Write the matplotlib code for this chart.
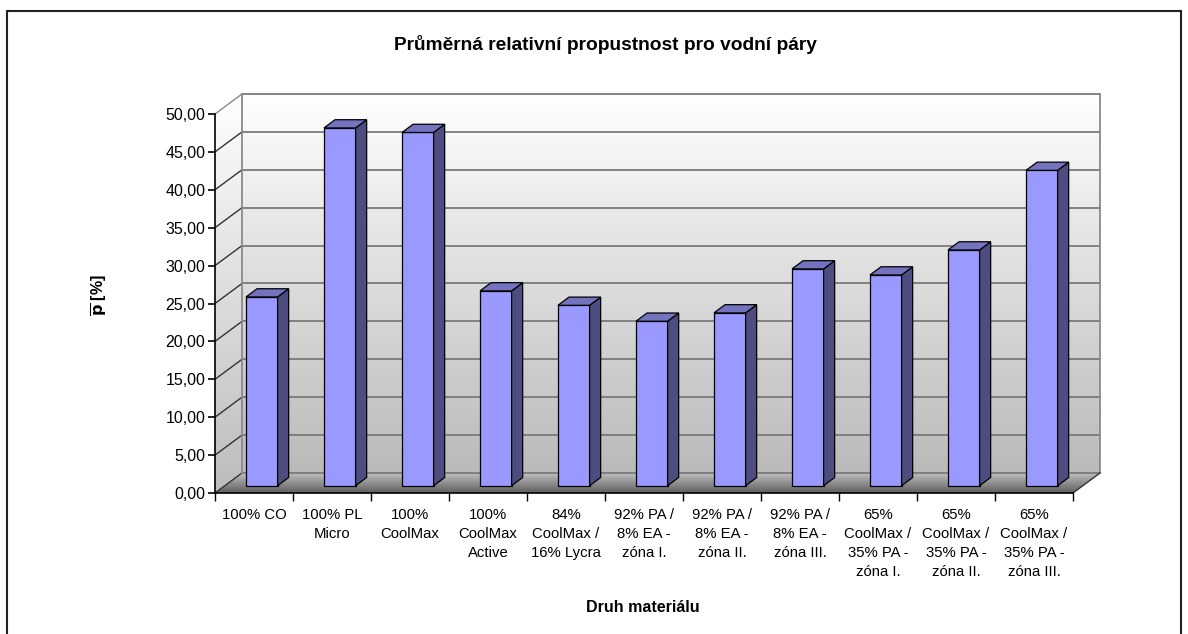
import numpy as np
import matplotlib
matplotlib.use('Agg')
import matplotlib.pyplot as plt
from matplotlib.patches import Polygon, Rectangle

plt.rcParams['font.family'] = ['Liberation Sans', 'DejaVu Sans']

# data
materials = ['100% CO', '100% PL\nMicro', '100%\nCoolMax', '100%\nCoolMax\nActive',
             '84%\nCoolMax /\n16% Lycra', '92% PA /\n8% EA -\nzóna I.',
             '92% PA /\n8% EA -\nzóna II.', '92% PA /\n8% EA -\nzóna III.',
             '65%\nCoolMax /\n35% PA -\nzóna I.', '65%\nCoolMax /\n35% PA -\nzóna II.',
             '65%\nCoolMax /\n35% PA -\nzóna III.']
permeability = [24.9, 47.2, 46.6, 25.7, 23.8, 21.7, 22.8, 28.6, 27.8, 31.1, 41.6]
y_ticks = np.arange(0, 55, 5)

n = len(materials)
ymax = 50
# oblique depth of the 3d box in data units
ddx, ddy = 0.346, 2.64
f0, f1 = 0.365, 0.775          # bar depth range (fraction of box depth)
bar_w = 0.405
bar_shift = 0.10

W, H = 1188, 634
fig = plt.figure(figsize=(W / 100, H / 100), dpi=100)
ax = fig.add_axes([215 / W, 1 - 493 / H, 858 / W, 379 / H])
ax.set_facecolor('none')

x0, x1 = -0.5, n - 0.5


def gradient(poly_pts, extent, top, bottom, z):
    c_top = np.array(matplotlib.colors.to_rgb(top))
    c_bot = np.array(matplotlib.colors.to_rgb(bottom))
    t = np.linspace(0, 1, 256)[:, None]
    img = (c_top * (1 - t) + c_bot * t)[:, None, :]
    im = ax.imshow(img, extent=extent, aspect='auto', zorder=z, interpolation='bilinear')
    poly = Polygon(poly_pts, closed=True, facecolor='none', edgecolor='none', transform=ax.transData)
    ax.add_patch(poly)
    poly.set_clip_on(False)
    im.set_clip_path(poly)
    im.set_clip_box(fig.bbox)


# back wall
back = [(x0 + ddx, ddy), (x1 + ddx, ddy), (x1 + ddx, ymax + ddy), (x0 + ddx, ymax + ddy)]
gradient(back, (x0 + ddx, x1 + ddx, ddy, ymax + ddy), '#ffffff', '#bababa', 0)
# left wall
left = [(x0, 0), (x0 + ddx, ddy), (x0 + ddx, ymax + ddy), (x0, ymax)]
gradient(left, (x0, x0 + ddx, 0, ymax + ddy), '#ffffff', '#bcbcbc', 0)
# floor
floor = [(x0, 0), (x1, 0), (x1 + ddx, ddy), (x0 + ddx, ddy)]
gradient(floor, (x0, x1 + ddx, 0, ddy), '#c4c4c4', '#5e5e5e', 0.5)

# gridlines on walls
for v in y_ticks:
    ax.plot([x0 + ddx, x1 + ddx], [v + ddy, v + ddy], color='#7a7a7a', lw=1.3, zorder=1, clip_on=False)
    ax.plot([x0, x0 + ddx], [v, v + ddy], color='#333333' if v < ymax else '#8a8a8a',
            lw=1.0, zorder=1, clip_on=False)
# box edges
ax.plot([x0 + ddx, x0 + ddx], [ddy, ymax + ddy], color='#8a8a8a', lw=1.3, zorder=1, clip_on=False)
ax.plot([x1 + ddx, x1 + ddx], [ddy, ymax + ddy], color='#8a8a8a', lw=1.3, zorder=1, clip_on=False)
ax.plot([x1, x1 + ddx], [0, ddy], color='#333333', lw=1.0, zorder=1, clip_on=False)

# bars
front_c, side_c, top_c = '#9999ff', '#4d4d80', '#7373bf'
xs = np.arange(n) + bar_shift
base = f0 * ddy
dx_b, dy_b = (f1 - f0) * ddx, (f1 - f0) * ddy
ax.bar(xs, permeability, width=bar_w, bottom=base, color=front_c, edgecolor='black',
       linewidth=0.9, zorder=3)
for x, v in zip(xs, permeability):
    xl, xr = x - bar_w / 2, x + bar_w / 2
    top_y = base + v
    side = Polygon([(xr, base), (xr + dx_b, base + dy_b), (xr + dx_b, top_y + dy_b), (xr, top_y)],
                   closed=True, facecolor=side_c, edgecolor='black', lw=0.9, zorder=3)
    top = Polygon([(xl, top_y), (xr, top_y), (xr + dx_b, top_y + dy_b), (xl + dx_b, top_y + dy_b)],
                  closed=True, facecolor=top_c, edgecolor='black', lw=0.9, zorder=3)
    ax.add_patch(side)
    ax.add_patch(top)

ax.set_xlim(x0, x1)
ax.set_ylim(0, ymax)
for s in ['top', 'right']:
    ax.spines[s].set_visible(False)
for s in ['left', 'bottom']:
    ax.spines[s].set_color('black')
    ax.spines[s].set_linewidth(1.2)
    ax.spines[s].set_zorder(4)

ax.set_yticks(y_ticks)
ax.set_yticklabels([f'{v:.2f}'.replace('.', ',') for v in y_ticks], fontsize=11.5)
ax.tick_params(axis='y', length=5, width=1.2, pad=2)
ax.set_xticks(np.arange(n))
ax.set_xticklabels(materials, fontsize=10.7, linespacing=1.47)
ax.set_xticks(np.arange(n + 1) - 0.5, minor=True)
ax.tick_params(axis='x', which='major', length=0, pad=10.5)
ax.tick_params(axis='x', which='minor', length=6, width=1.0)

fig.text(605 / W, 1 - 44 / H, 'Průměrná relativní propustnost pro vodní páry',
         ha='center', va='center', fontsize=13.8, fontweight='bold')
fig.text(643 / W, 1 - 607 / H, 'Druh materiálu', ha='center', va='center',
         fontsize=11.5, fontweight='bold')
fig.text(100 / W, 1 - 295 / H, r'$\mathbf{\overline{p}}$ [%]', ha='center', va='center',
         rotation=90, fontsize=11.5, fontweight='bold')

fig.patches.append(Rectangle((7 / W, -0.01), 1174 / W, 1 - 11 / H + 0.01, transform=fig.transFigure,
                             fill=False, edgecolor='#222222', lw=1.5))

fig.savefig('out.png', dpi=100)
